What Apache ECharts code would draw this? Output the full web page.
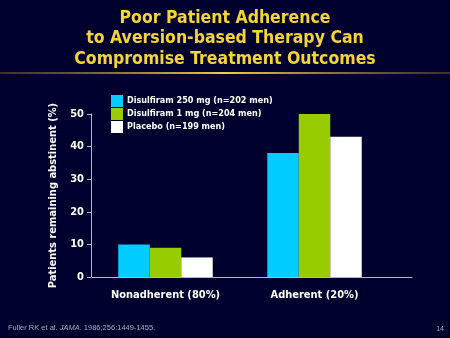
<!DOCTYPE html>
<html>
<head>
<meta charset="utf-8">
<script src="https://cdn.jsdelivr.net/npm/echarts@6/dist/echarts.min.js"></script>
<style>
  html, body { margin: 0; padding: 0; background: #00002e; }
  #chart { width: 450px; height: 338px; }
</style>
</head>
<body>
<div id="chart"></div>
<script>
// Abstinence rates by adherence group (percent of patients)
const categories = ['Nonadherent (80%)', 'Adherent (20%)'];
const seriesNames = [
  'Disulfiram 250 mg (n=202 men)',
  'Disulfiram 1 mg (n=204 men)',
  'Placebo (n=199 men)'
];
const disulfiram250 = [10, 38];
const disulfiram1 = [9, 50];
const placebo = [6, 43];
const yTicks = { min: 0, max: 50, interval: 10 };

const colors = ['#00ccff', '#99cc00', '#ffffff'];
const values = [disulfiram250, disulfiram1, placebo];
const boldFont = 'DejaVu Sans Condensed';

const chart = echarts.init(document.getElementById('chart'), null, { renderer: 'canvas' });

chart.setOption({
  backgroundColor: '#00002e',
  animation: false,
  title: [
    {
      text: 'Poor Patient Adherence\nto Aversion-based Therapy Can\nCompromise Treatment Outcomes',
      left: 'center',
      top: 3,
      textStyle: {
        color: '#f5d43a',
        fontFamily: boldFont,
        fontWeight: 'bold',
        fontSize: 17.5,
        lineHeight: 20.5,
        align: 'center'
      }
    },
    {
      text: '{n|Fuller RK et al. }{i|JAMA}{n|. 1986;256:1449-1455.}',
      left: 8,
      top: 324,
      padding: 0,
      textStyle: {
        fontWeight: 'normal',
        rich: {
          n: { color: '#a9a9c0', fontFamily: 'Liberation Sans', fontSize: 7.5, fontWeight: 'normal' },
          i: { color: '#a9a9c0', fontFamily: 'Liberation Sans', fontSize: 7.5, fontWeight: 'normal', fontStyle: 'italic' }
        }
      }
    },
    {
      text: '14',
      right: 6,
      top: 326,
      padding: 0,
      textStyle: { color: '#a9a9c0', fontFamily: 'Liberation Sans', fontSize: 7, fontWeight: 'normal' }
    }
  ],
  graphic: [
    {
      type: 'rect',
      shape: { x: 0, y: 72, width: 450, height: 2 },
      style: {
        fill: new echarts.graphic.LinearGradient(0, 0, 1, 0, [
          { offset: 0, color: 'rgba(120,100,40,0.5)' },
          { offset: 0.5, color: '#f2cf3a' },
          { offset: 1, color: 'rgba(120,100,40,0.5)' }
        ])
      }
    }
  ],
  legend: {
    data: seriesNames,
    orient: 'vertical',
    left: 106,
    top: 90,
    itemWidth: 12,
    itemHeight: 12,
    itemGap: 1,
    icon: 'rect',
    textStyle: {
      color: '#ffffff',
      fontFamily: boldFont,
      fontWeight: 'bold',
      fontSize: 9,
      padding: [0, 0, 0, -1]
    }
  },
  grid: [
    // full-length baseline under the plot
    { left: 92, top: 114, width: 320, height: 163, containLabel: false },
    // plotting area for the bars
    { left: 91, top: 114, width: 298, height: 163, containLabel: false }
  ],
  xAxis: [
    {
      gridIndex: 0,
      type: 'value',
      min: 0,
      max: 1,
      axisLine: { show: true, onZero: false, lineStyle: { color: '#b4b4cc', width: 1 } },
      axisTick: { show: false },
      axisLabel: { show: false },
      splitLine: { show: false }
    },
    {
      gridIndex: 1,
      type: 'category',
      data: categories,
      axisLine: { show: false },
      axisTick: { show: false },
      axisLabel: {
        interval: 0,
        color: '#ffffff',
        fontFamily: boldFont,
        fontWeight: 'bold',
        fontSize: 11,
        margin: 13
      }
    }
  ],
  yAxis: [
    {
      gridIndex: 0,
      type: 'value',
      min: yTicks.min,
      max: yTicks.max,
      interval: yTicks.interval,
      show: false
    },
    {
      gridIndex: 1,
      type: 'value',
      min: yTicks.min,
      max: yTicks.max,
      interval: yTicks.interval,
      name: 'Patients remaining abstinent (%)',
      nameLocation: 'middle',
      nameGap: 32,
      nameRotate: 90,
      nameTextStyle: {
        color: '#ffffff',
        fontFamily: boldFont,
        fontWeight: 'bold',
        fontSize: 11
      },
      axisLine: { show: true, lineStyle: { color: '#b4b4cc', width: 1 } },
      axisTick: { show: true, length: 4, lineStyle: { color: '#b4b4cc' } },
      axisLabel: {
        color: '#ffffff',
        fontFamily: boldFont,
        fontWeight: 'bold',
        fontSize: 11,
        margin: 7
      },
      splitLine: { show: false }
    }
  ],
  series: seriesNames.map((name, i) => ({
    name: name,
    type: 'bar',
    xAxisIndex: 1,
    yAxisIndex: 1,
    data: values[i],
    barWidth: 31.5,
    barGap: '0%',
    itemStyle: { color: colors[i] }
  }))
});
</script>
</body>
</html>
